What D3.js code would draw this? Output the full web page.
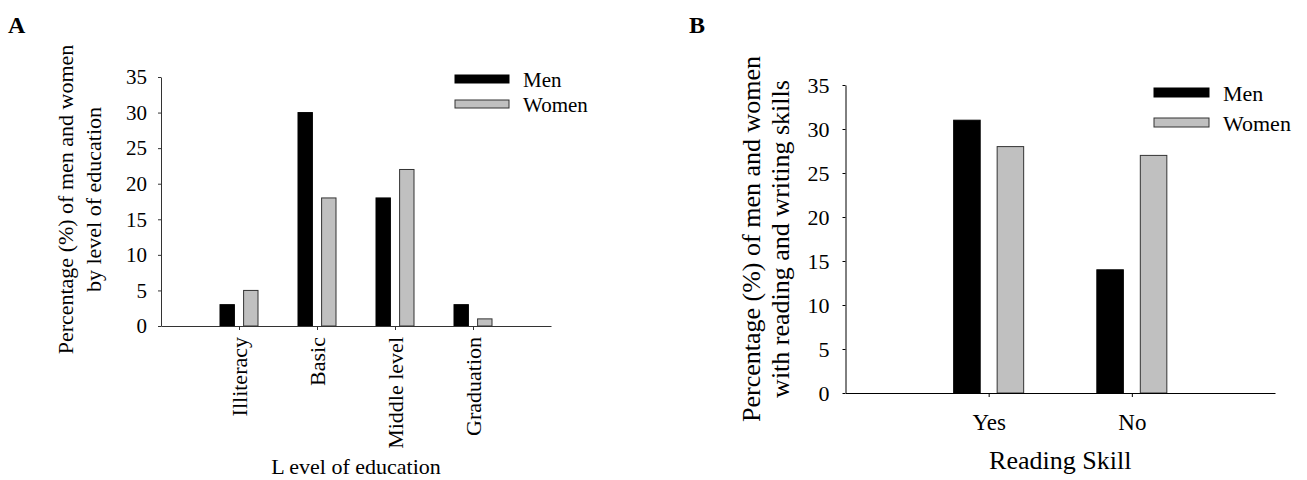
<!DOCTYPE html>
<html>
<head>
<meta charset="utf-8">
<script src="https://cdn.jsdelivr.net/npm/d3@7"></script>
<style>
  html, body { margin: 0; padding: 0; background: #fff; }
  svg { display: block; }
  text { font-family: "Liberation Serif", "Times New Roman", serif; fill: #000; }
</style>
</head>
<body>
<svg id="chart" width="1307" height="480"></svg>
<script>
// ---- data ----
const seriesNames = ["Men", "Women"];
const eduCategories = ["Illiteracy", "Basic", "Middle level", "Graduation"];
const eduMen = [3, 30, 18, 3];
const eduWomen = [5, 18, 22, 1];
const readCategories = ["Yes", "No"];
const readMen = [31, 14];
const readWomen = [28, 27];
const yTickValues = [0, 5, 10, 15, 20, 25, 30, 35];
const yMax = 35;
const eduYTitle = ["Percentage (%) of men and women", "by level of education"];
const eduXTitle = "L evel of education";
const readYTitle = ["Percentage (%) of men and women", "with reading and writing skills"];
const readXTitle = "Reading Skill";

const colors = { Men: "#000000", Women: "#c0c0c0" };

const svg = d3.select("#chart");

function panel(o) {
  const g = svg.append("g");
  const x = d3.scalePoint().domain(o.categories).range([o.x0, o.x1]).padding(1);
  const xs = d3.scaleBand().domain(seriesNames).range([-o.half, o.half]).paddingInner(0.39);
  const y = d3.scaleLinear().domain([0, yMax]).range([o.yBottom, o.yTop]);

  const rows = o.categories.map((c, i) => ({ cat: c, Men: o.men[i], Women: o.women[i] }));

  // bars
  const grp = g.selectAll("g.cat").data(rows).join("g")
    .attr("transform", d => `translate(${x(d.cat)},0)`);
  grp.selectAll("rect").data(d => seriesNames.map(s => ({ s, v: d[s] }))).join("rect")
    .attr("x", d => xs(d.s))
    .attr("width", xs.bandwidth())
    .attr("y", d => y(d.v))
    .attr("height", d => y(0) - y(d.v))
    .attr("fill", d => colors[d.s])
    .attr("stroke", d => d.s === "Men" ? "#000" : "#333")
    .attr("stroke-width", 1);

  // y axis
  const ya = g.append("g").attr("transform", `translate(${o.x0},0)`)
    .call(d3.axisLeft(y).tickValues(yTickValues).tickSize(3).tickPadding(o.yPad).tickSizeOuter(0));
  ya.selectAll("text").style("font-size", o.yTickFont + "px");
  ya.selectAll("path,line").attr("stroke", o.axisColor);

  // x axis
  const xa = g.append("g").attr("transform", `translate(0,${o.yBottom})`)
    .call(d3.axisBottom(x).tickSize(4).tickSizeOuter(0).tickPadding(o.xPad));
  xa.selectAll("path,line").attr("stroke", o.axisColor);
  xa.selectAll("text").style("font-size", o.xTickFont + "px");
  if (o.rotate) {
    xa.selectAll("text")
      .attr("text-anchor", "end")
      .attr("transform", "rotate(-90)")
      .attr("x", -(4 + o.xPad))
      .attr("y", 0)
      .attr("dy", "0.33em");
  }

  // y title
  const cy = (o.yTop + o.yBottom) / 2 + o.yTitleShift;
  o.yTitle.forEach((t, i) => {
    g.append("text")
      .attr("transform", `translate(${o.yTitleX[i]},${cy}) rotate(-90)`)
      .attr("text-anchor", "middle")
      .style("font-size", o.yTitleFont + "px")
      .text(t);
  });

  // x title
  g.append("text")
    .attr("x", (o.x0 + o.x1) / 2)
    .attr("y", o.xTitleY)
    .attr("text-anchor", "middle")
    .style("font-size", o.xTitleFont + "px")
    .text(o.xTitle);

  // legend
  seriesNames.forEach((s, i) => {
    g.append("rect")
      .attr("x", o.legX).attr("y", o.legY + i * o.legGap)
      .attr("width", o.legW).attr("height", o.legH)
      .attr("fill", colors[s]).attr("stroke", s === "Men" ? "#000" : "#333").attr("stroke-width", 1);
    g.append("text")
      .attr("x", o.legX + o.legW + 14)
      .attr("y", o.legY + i * o.legGap + o.legH + 4)
      .style("font-size", o.legFont + "px")
      .text(s);
  });

  // panel letter
  g.append("text")
    .attr("x", o.letterX).attr("y", 33)
    .style("font-size", "24px").style("font-weight", "bold")
    .text(o.letter);
}

panel({
  letter: "A", letterX: 8,
  categories: eduCategories, men: eduMen, women: eduWomen,
  x0: 161, x1: 551, yTop: 77, yBottom: 326, half: 19,
  yPad: 11, yTickFont: 21, xPad: 7, xTickFont: 22, rotate: true,
  axisColor: "#333",
  yTitle: eduYTitle, yTitleX: [73, 101], yTitleFont: 22, yTitleShift: -2,
  xTitle: eduXTitle, xTitleY: 474, xTitleFont: 22,
  legX: 455, legY: 75, legW: 54, legH: 8, legGap: 25, legFont: 21
});

panel({
  letter: "B", letterX: 689,
  categories: readCategories, men: readMen, women: readWomen,
  x0: 845.5, x1: 1275, yTop: 85, yBottom: 393, half: 35,
  yPad: 13, yTickFont: 22, xPad: 17, xTickFont: 23, rotate: false,
  axisColor: "#000",
  yTitle: readYTitle, yTitleX: [760, 789], yTitleFont: 26, yTitleShift: 0,
  xTitle: readXTitle, xTitleY: 469, xTitleFont: 26,
  legX: 1154, legY: 88, legW: 55, legH: 9, legGap: 30, legFont: 22
});
</script>
</body>
</html>
